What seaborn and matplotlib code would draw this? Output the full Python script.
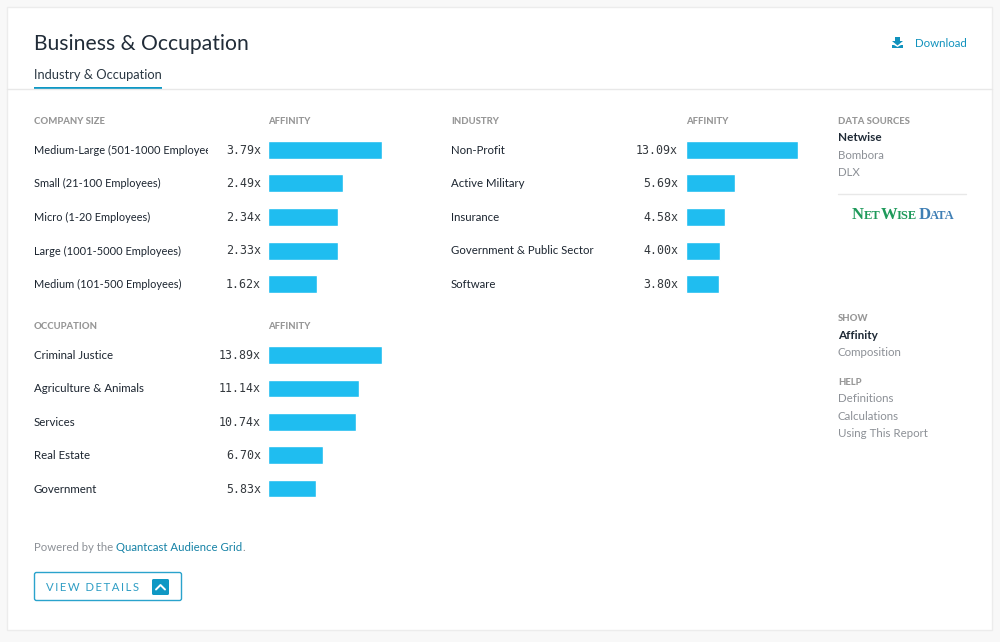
import matplotlib
matplotlib.use("Agg")
import matplotlib.pyplot as plt
from matplotlib.patches import FancyBboxPatch, Polygon, Rectangle
from matplotlib.transforms import Bbox
import pandas as pd
import seaborn as sns

company_labels = ["Medium-Large (501-1000 Employees)", "Small (21-100 Employees)", "Micro (1-20 Employees)",
                  "Large (1001-5000 Employees)", "Medium (101-500 Employees)"]
company_values = [3.79, 2.49, 2.34, 2.33, 1.62]

occupation_labels = ["Criminal Justice", "Agriculture & Animals", "Services", "Real Estate", "Government"]
occupation_values = [13.89, 11.14, 10.74, 6.70, 5.83]

industry_labels = ["Non-Profit", "Active Military", "Insurance", "Government & Public Sector", "Software"]
industry_values = [13.09, 5.69, 4.58, 4.00, 3.80]

W, H = 1000, 642
BAR = "#1fbdf0"
INK = "#1f2a36"
GREY = "#8c9096"
HEAD = "#979797"
LINK = "#1192bd"

sns.set_theme(style="white")
plt.rcParams["font.family"] = ["Lato", "DejaVu Sans"]

fig = plt.figure(figsize=(W / 100, H / 100), dpi=100, facecolor="#f8f8f8")
bg = fig.add_axes([0, 0, 1, 1])
bg.set_xlim(0, W)
bg.set_ylim(H, 0)
bg.axis("off")


def txt(x, y, s, size=8.2, color=INK, **kw):
    kw.setdefault("va", "center")
    return bg.text(x, y + 0.8, s, fontsize=size, color=color, **kw)


def panel(labels, values, left, top, width, row, label_x, value_x, clip_x, label_size=8.3):
    df = pd.DataFrame({"label": labels, "value": values})
    ax = fig.add_axes([left / W, 1 - (top + row * len(labels)) / H, width / W, row * len(labels) / H])
    ax.patch.set_alpha(0)
    sns.barplot(data=df, x="value", y="label", color=BAR, saturation=1, width=0.53, ax=ax)
    ax.set_xlim(0, max(values))
    ax.axis("off")
    for i, (lab, val) in enumerate(zip(labels, values)):
        y = top + row * (i + 0.5) - 0.4
        t = txt(label_x, y, lab, size=label_size, color="#1c2530")
        t.set_clip_box(Bbox([[0, 0], [clip_x, H]]))
        t.set_clip_on(True)
        txt(value_x, y, f"{val:.2f}x", size=8.4, color="#33383d", ha="right", family="DejaVu Sans Mono")


# card
bg.add_patch(Rectangle((6.5, 6.5), 985.5, 623.5, facecolor="white", edgecolor="#ececec", lw=1))
bg.plot([7, 992], [89, 89], color="#e8e8e8", lw=1)

txt(34, 43.5, "Business & Occupation", size=15.2, color="#212c38")
txt(34, 74.5, "Industry & Occupation", size=9.3, color="#2a3742")
bg.add_patch(Rectangle((34, 87), 128, 2, facecolor="#0f98c4", edgecolor="none"))

# download icon + link
bg.add_patch(Polygon([(895, 37), (900, 37), (900, 41), (903, 41), (897.5, 45.5), (892, 41), (895, 41)],
                     facecolor=LINK, edgecolor="none"))
bg.add_patch(Polygon([(892, 45), (894, 45), (897.5, 47), (901, 45), (903, 45), (903, 48), (892, 48)],
                     facecolor=LINK, edgecolor="none"))
txt(915, 43, "Download", size=8.3, color=LINK)

# column headers
for x, y, s in [(34, 120.5, "COMPANY SIZE"), (268.5, 120.5, "AFFINITY"), (451, 120.5, "INDUSTRY"),
                (686.5, 120.5, "AFFINITY"), (34, 326, "OCCUPATION"), (268.5, 326, "AFFINITY"),
                (838, 120.5, "DATA SOURCES"), (838, 318, "SHOW"), (838, 381.5, "HELP")]:
    txt(x, y, s, size=6.8, color=HEAD, fontweight=900)

panel(company_labels, company_values, 268, 133, 114, 33.6, 34, 261, 208, label_size=7.95)
panel(occupation_labels, occupation_values, 268, 338.3, 114, 33.4, 34, 261, 260)
panel(industry_labels, industry_values, 686, 133, 112, 33.6, 451, 678, 640, label_size=8.2)

# side menu
txt(838, 137, "Netwise", size=8.5, color=INK, fontweight="bold")
txt(838, 154.5, "Bombora", size=8.3, color=GREY)
txt(838, 172, "DLX", size=8.3, color=GREY)
bg.plot([838, 966], [194, 194], color="#e8e8e8", lw=1)

# logo, small caps pieced together, each piece starts where the last one ended
GREEN = "#1f9a5b"
BLUE = "#3f7fb5"
x = 852
renderer = fig.canvas.get_renderer()
inv = bg.transData.inverted()
for piece, size, col in [("N", 12.0, GREEN), ("ET", 9.0, GREEN), ("W", 12.0, GREEN), ("ISE", 9.0, GREEN),
                         ("D", 12.0, BLUE), ("ATA", 9.0, BLUE)]:
    t = bg.text(x, 219, piece, fontsize=size, color=col, family="Liberation Serif", va="baseline",
                fontweight="bold")
    box = t.get_window_extent(renderer)
    x = inv.transform((box.x1, box.y0))[0] + (1.2 if piece == "ISE" else -0.2)

txt(838, 334.5, "Affinity", size=8.5, color=INK, fontweight="bold")
txt(838, 352, "Composition", size=8.3, color=GREY)
txt(838, 398, "Definitions", size=8.3, color=GREY)
txt(838, 415.5, "Calculations", size=8.3, color=GREY)
txt(838, 433, "Using This Report", size=8.3, color=GREY)

# footer
txt(34, 547, "Powered by the ", size=8.2, color=GREY)
txt(116, 547, "Quantcast Audience Grid", size=8.2, color="#1682a6")
txt(242, 547, ".", size=8.2, color=GREY)

bg.add_patch(FancyBboxPatch((34.5, 572.5), 147, 28, boxstyle="round,pad=0,rounding_size=2",
                            facecolor="white", edgecolor="#2aa3cc", lw=1))
# hair spaces give the tracked-out button label
txt(46.5, 586.5, "\u200a\u200a".join("VIEW DETAILS"), size=8.2, color="#2e9dc4")
bg.add_patch(FancyBboxPatch((152, 579), 17, 16, boxstyle="round,pad=0,rounding_size=1.5",
                            facecolor="#0f98c4", edgecolor="none"))
bg.plot([156, 160.5, 165], [589.5, 585, 589.5], color="white", lw=1.4)

fig.savefig("out.png", dpi=100, facecolor=fig.get_facecolor())
